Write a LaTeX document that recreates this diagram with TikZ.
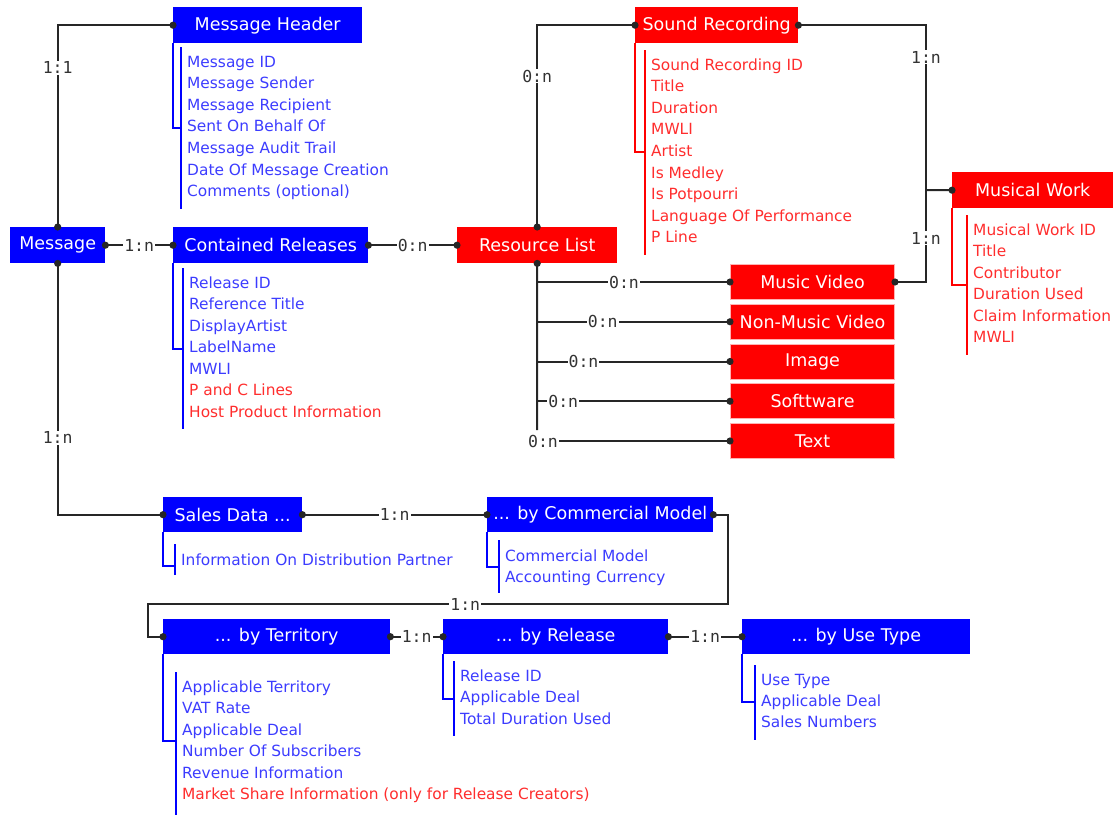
\documentclass[tikz,border=0pt]{standalone}
\usepackage{fontspec}
\setmainfont{DejaVu Sans}
\newfontfamily\cardfont{DejaVu Sans Mono}
\usetikzlibrary{arrows.meta}
\definecolor{attblue}{RGB}{60,60,255}
\definecolor{attred}{RGB}{255,45,45}
\tikzset{
  ent/.style={fill=#1, text=white, anchor=north west, inner sep=0pt, minimum height=36,
    font=\fontsize{17.5}{20}\selectfont},
  res/.style={ent=red, draw=red!30, line width=1pt, minimum width=164, minimum height=35},
  attr/.style={text=#1, anchor=west, inner sep=0pt, text height=11pt, text depth=3pt,
    font=\fontsize{15.4}{18}\selectfont},
  attrline/.style={draw=#1, line width=2pt},
  conn/.style={draw=black!85, line width=2pt},
  dots/.style={conn, {Circle[length=7pt]}-{Circle[length=7pt]}, shorten <=-3.5pt, shorten >=-3.5pt},
  dotstart/.style={conn, {Circle[length=7pt]}-, shorten <=-3.5pt},
  dotend/.style={conn, -{Circle[length=7pt]}, shorten >=-3.5pt},
  card/.style={fill=white, inner sep=1pt, text=black!80, font=\cardfont\fontsize{16.5}{18}\selectfont},
}
\begin{document}
\begin{tikzpicture}[x=1pt, y=-1pt]
  \useasboundingbox (0,0) rectangle (1115,814);

  % entities
  \node[ent=blue, minimum width=189] (mh) at (173,7) {Message Header};
  \node[ent=blue, minimum width=95] (msg) at (10,227) {Message};
  \node[ent=blue, minimum width=195] (cr) at (173,227) {Contained Releases};
  \node[ent=red, minimum width=160] (rl) at (457,227) {Resource List};
  \node[ent=red, minimum width=163] (sr) at (635,7) {Sound Recording};
  \node[ent=red, minimum width=161] (mw) at (952,172) {Musical Work};
  \foreach \n/\t [count=\i] in {mv/Music Video, nmv/Non-Music Video, img/Image, sw/Softtware, txt/Text}
    \node[res] (\n) at (730,{264+39.75*(\i-1)}) {\t};
  \node[ent=blue, minimum width=139, minimum height=35] (sd) at (163,497) {Sales Data ...};
  \node[ent=blue, minimum width=226, minimum height=35] (cm) at (487,497) {... by Commercial Model};
  \node[ent=blue, minimum width=227, minimum height=35] (bt) at (163,619) {... by Territory};
  \node[ent=blue, minimum width=225, minimum height=35] (br) at (443,619) {... by Release};
  \node[ent=blue, minimum width=228, minimum height=35] (bu) at (742,619) {... by Use Type};

  % connectors
  \coordinate (mwj) at (926,190);
  \coordinate (rlend) at (537,430);
  \coordinate (cmr) at (728,604);
  \coordinate (btl) at (148,604);
  \draw[dots] (mh.west) -| (msg.north) node[card, pos=0.606] {1:1};
  \draw[dots] (msg.east) -- (cr.west) node[card, midway] {1:n};
  \draw[dots] (cr.east) -- (rl.west) node[card, midway] {0:n};
  \draw[dots] (rl.north) |- (sr.west) node[card, pos=0.374] {0:n};
  \draw[dots] (sr.east) -| (mwj) node[card, pos=0.597] {1:n} |- (mv.east) node[card, pos=0.262] {1:n};
  \draw[dotend] (mwj) -- (mw.west);
  \draw[dotstart] (rl.south) -- (rlend);
  \foreach \n/\p in {mv/0.45, nmv/0.34, img/0.24, sw/0.135, txt/0.03}
    \draw[dotend] (rl.south |- \n.west) -- (\n.west) node[card, pos=\p] {0:n};
  \draw[dots] (msg.south) |- (sd.west) node[card, pos=0.347] {1:n};
  \draw[dots] (sd.east) -- (cm.west) node[card, midway] {1:n};
  \draw[dots] (cm.east) -| (cmr) -- (btl) node[card, pos=0.453] {1:n} |- (bt.west);
  \draw[dots] (bt.east) -- (br.west) node[card, midway] {1:n};
  \draw[dots] (br.east) -- (bu.west) node[card, midway] {1:n};

  % message header attributes
  \foreach \t [count=\i] in {Message ID, Message Sender, Message Recipient, Sent On Behalf Of,
      Message Audit Trail, Date Of Message Creation, Comments (optional)}
    \node[attr=attblue] (mh-\i) at (187,{63+21.6*(\i-1)}) {\t};
  \draw[attrline=blue] (mh.south west) |- ([xshift=-6]mh-4.west);
  \draw[attrline=blue] ([shift={(-6,-16)}]mh-1.west) -- ([shift={(-6,16)}]mh-7.west);

  % sound recording attributes
  \foreach \t [count=\i] in {Sound Recording ID, Title, Duration, MWLI, Artist, Is Medley,
      Is Potpourri, Language Of Performance, P Line}
    \node[attr=attred] (sr-\i) at (651,{66+21.6*(\i-1)}) {\t};
  \draw[attrline=red] (sr.south west) |- ([xshift=-6]sr-5.west);
  \draw[attrline=red] ([shift={(-6,-16)}]sr-1.west) -- ([shift={(-6,16)}]sr-9.west);

  % musical work attributes
  \foreach \t [count=\i] in {Musical Work ID, Title, Contributor, Duration Used,
      Claim Information, MWLI}
    \node[attr=attred] (mw-\i) at (973,{231+21.5*(\i-1)}) {\t};
  \draw[attrline=red] (mw.south west) |- ([shift={(-6,11)}]mw-3.west);
  \draw[attrline=red] ([shift={(-6,-16)}]mw-1.west) -- ([shift={(-6,16)}]mw-6.west);

  % contained releases attributes
  \foreach \t/\c [count=\i] in {Release ID/attblue, Reference Title/attblue, DisplayArtist/attblue,
      LabelName/attblue, MWLI/attblue, P and C Lines/attred, Host Product Information/attred}
    \node[attr=\c] (cr-\i) at (189,{284+21.5*(\i-1)}) {\t};
  \draw[attrline=blue] (cr.south west) |- ([xshift=-6]cr-4.west);
  \draw[attrline=blue] ([shift={(-6,-16)}]cr-1.west) -- ([shift={(-6,16)}]cr-7.west);

  % sales data attributes
  \node[attr=attblue] (sd-1) at (181,561) {Information On Distribution Partner};
  \draw[attrline=blue] (sd.south west) |- ([shift={(-6,5)}]sd-1.west);
  \draw[attrline=blue] ([shift={(-6,-17)}]sd-1.west) -- ([shift={(-6,14)}]sd-1.west);

  % commercial model attributes
  \foreach \t [count=\i] in {Commercial Model, Accounting Currency}
    \node[attr=attblue] (cm-\i) at (505,{557+21.5*(\i-1)}) {\t};
  \draw[attrline=blue] (cm.south west) |- ([shift={(-6,10)}]cm-1.west);
  \draw[attrline=blue] ([shift={(-6,-17)}]cm-1.west) -- ([shift={(-6,14)}]cm-2.west);

  % territory attributes
  \foreach \t/\c [count=\i] in {Applicable Territory/attblue, VAT Rate/attblue,
      Applicable Deal/attblue, Number Of Subscribers/attblue, Revenue Information/attblue,
      Market Share Information (only for Release Creators)/attred}
    \node[attr=\c] (bt-\i) at (182,{688+21.5*(\i-1)}) {\t};
  \draw[attrline=blue] (bt.south west) |- ([shift={(-6,10)}]bt-3.west);
  \draw[attrline=blue] ([shift={(-6,-16)}]bt-1.west) -- ([shift={(-6,19)}]bt-6.west);

  % release attributes
  \foreach \t [count=\i] in {Release ID, Applicable Deal, Total Duration Used}
    \node[attr=attblue] (br-\i) at (460,{677+21.5*(\i-1)}) {\t};
  \draw[attrline=blue] (br.south west) |- ([xshift=-6]br-2.west);
  \draw[attrline=blue] ([shift={(-6,-16)}]br-1.west) -- ([shift={(-6,16)}]br-3.west);

  % use type attributes
  \foreach \t [count=\i] in {Use Type, Applicable Deal, Sales Numbers}
    \node[attr=attblue] (bu-\i) at (761,{681+21*(\i-1)}) {\t};
  \draw[attrline=blue] (bu.south west) |- ([xshift=-6]bu-2.west);
  \draw[attrline=blue] ([shift={(-6,-16)}]bu-1.west) -- ([shift={(-6,17)}]bu-3.west);
\end{tikzpicture}
\end{document}
